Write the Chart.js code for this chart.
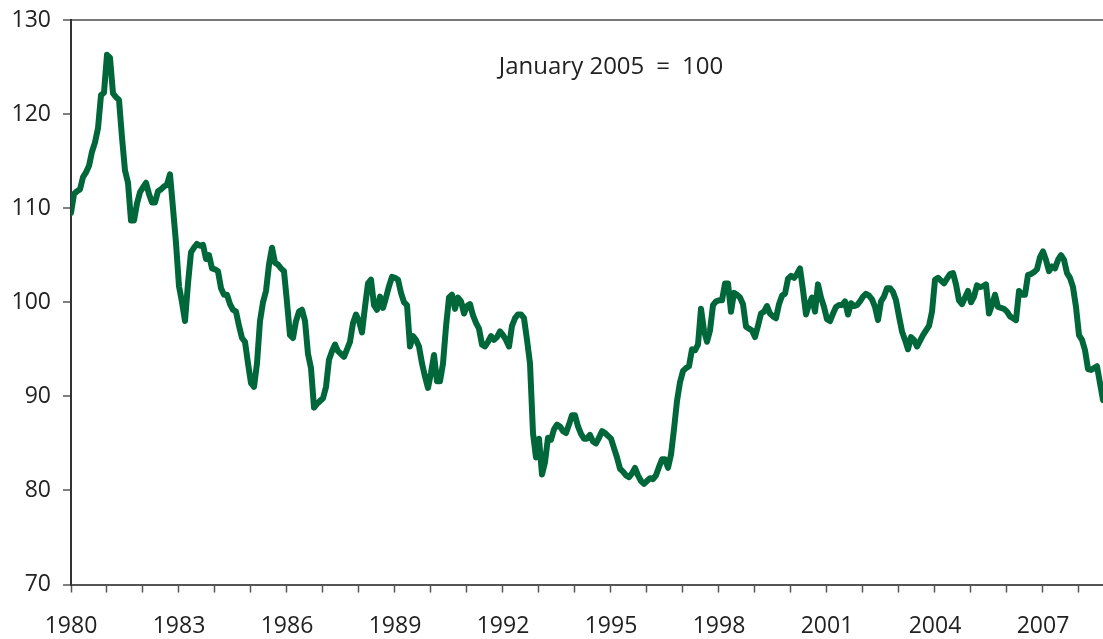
<!DOCTYPE html>
<html><head><meta charset="utf-8">
<script src="https://cdn.jsdelivr.net/npm/chart.js@4.4.1/dist/chart.umd.min.js"></script>
<style>html,body{margin:0;padding:0;background:#fff;overflow:hidden}</style>
</head><body>
<canvas id="c" width="1103" height="639"></canvas>
<script>
// ---- data (monthly index, January 2005 = 100) ----
const seriesLabel = 'Effective exchange rate index';
const noteText = 'January 2005 = 100';
const startYear = 1980;
const yMin = 70, yMax = 130, yStep = 10;
const labelEveryYears = 3;

const values1980s = [
  109.5,111.5,111.8,112,113.3,113.8,114.5,116,117,118.5,122,122.3,
  126.3,126,122.2,121.8,121.5,117.5,114,112.7,108.7,108.7,110.5,111.7,
  112.2,112.7,111.5,110.6,110.6,111.8,112,112.3,112.5,113.6,110,106.3,
  101.7,100,98,102,105.3,105.8,106.2,106,106.1,104.6,105,103.6,
  103.5,103.3,101.5,100.8,100.8,99.8,99.2,99,97.5,96.2,95.8,93.5,
  91.4,91,93.5,98,100,101.2,104,105.8,104.2,104,103.6,103.3,
  100,96.5,96.2,98,99,99.2,98,94.5,93,88.8,89.2,89.5,
  89.8,91,93.9,94.8,95.5,94.8,94.5,94.2,95,95.8,97.8,98.7,
  98,96.8,99.5,102,102.4,99.7,99.2,100.6,99.4,100.5,101.7,102.7,
  102.6,102.4,101,100,99.7,95.3,96.4,96,95.3,93.5,92.1,90.9
];
const values1990s = [
  92.5,94.4,91.6,91.6,93.5,97.4,100.5,100.8,99.3,100.5,100.1,98.8,
  99.6,99.8,98.6,97.8,97.2,95.5,95.3,95.8,96.4,96,96.3,96.9,
  96.5,96,95.3,97.5,98.3,98.7,98.7,98.3,96,93.5,86.1,83.5,
  85.5,81.7,83,85.6,85.4,86.5,87,86.8,86.3,86.1,87,88,
  88,86.8,86,85.5,85.5,85.9,85.2,85,85.6,86.3,86.1,85.8,
  85.5,84.5,83.5,82.3,82,81.6,81.4,81.8,82.4,81.6,81,80.7,
  81,81.3,81.2,81.6,82.5,83.3,83.3,82.4,83.8,86.5,89.5,91.5,
  92.7,93,93.2,95,94.9,95.5,99.3,97,95.8,97,99.7,100.1,
  100.2,100.2,102,102,99,101,100.8,100.5,99.8,97.4,97.2,97,
  96.3,97.5,98.8,99,99.6,98.8,98.5,98.3,99.8,100.7,100.9,102.5
];
const values2000s = [
  102.8,102.6,103,103.6,101.3,98.7,99.8,100.5,99,101.9,100.5,99.5,
  98.2,98,98.8,99.5,99.7,99.7,100.1,98.7,99.9,99.6,99.7,100.1,
  100.6,100.9,100.7,100.3,99.5,98.1,100.1,100.6,101.5,101.5,101.1,100.2,
  98.5,96.9,96,95,96.3,96,95.3,95.9,96.5,97,97.5,99,
  102.4,102.6,102.3,102,102.5,103,103.1,101.9,100.2,99.8,100.5,101.2,
  100,100.6,101.8,101.6,101.7,101.9,98.8,99.7,100.8,99.5,99.4,99.3,
  99,98.5,98.3,98.1,101.2,100.8,100.8,102.9,103,103.2,103.5,104.8,
  105.4,104.5,103.3,103.8,103.6,104.5,105,104.5,103.1,102.6,101.6,99.5,
  96.5,96,94.9,92.9,92.8,93,93.2,91.4,89.6
];

// ---- build ----
const allValues = values1980s.concat(values1990s, values2000s);
const points = allValues.map((v, i) => ({ x: startYear + i / 12, y: v }));
const xMax = startYear + (allValues.length - 1) / 12;

const FONT = "'Open Sans', 'Noto Sans', sans-serif";
const TEXT = '#222222';

const notePlugin = {
  id: 'note',
  afterDraw(chart) {
    const { ctx, scales } = chart;
    ctx.save();
    ctx.font = `24px ${FONT}`;
    ctx.fillStyle = TEXT;
    ctx.textAlign = 'center';
    ctx.textBaseline = 'middle';
    const txt = noteText.replace(' = ', '\u2002=\u2002');
    ctx.fillText(txt, scales.x.getPixelForValue(1995), scales.y.getPixelForValue(125));
    ctx.restore();
  }
};

new Chart(document.getElementById('c'), {
  type: 'line',
  data: {
    datasets: [{
      label: seriesLabel,
      data: points,
      borderColor: '#00673A',
      borderWidth: 6,
      pointRadius: 0,
      tension: 0,
      borderJoinStyle: 'round',
      borderCapStyle: 'round',
      fill: false
    }]
  },
  options: {
    responsive: false,
    animation: false,
    layout: { padding: { top: 20, right: 0, bottom: 0, left: 0 } },
    plugins: { legend: { display: false }, tooltip: { enabled: false } },
    scales: {
      x: {
        type: 'linear',
        min: startYear,
        max: xMax,
        afterFit(s) { s.height = 54.5; s.paddingLeft = 0; s.paddingRight = 0; },
        border: { display: true, color: '#555', width: 2 },
        grid: { drawOnChartArea: false, drawTicks: true, tickLength: 8, tickColor: '#555', tickWidth: 1.5 },
        ticks: {
          stepSize: 1,
          includeBounds: false,
          autoSkip: false,
          maxRotation: 0,
          padding: 20,
          color: TEXT,
          font: { family: FONT, size: 23 },
          callback: (v) => ((v - startYear) % labelEveryYears === 0 ? String(v) : '')
        }
      },
      y: {
        min: yMin,
        max: yMax,
        afterFit(s) { s.width = 71; s.paddingTop = 0; s.paddingBottom = 0; },
        border: { display: true, color: '#333', width: 2 },
        grid: {
          drawOnChartArea: true,
          drawTicks: true,
          tickLength: 8,
          tickColor: '#555',
          tickWidth: 1.5,
          lineWidth: 2,
          color: (c) => (c.tick && c.tick.value === yMax ? '#777' : 'rgba(0,0,0,0)')
        },
        ticks: {
          stepSize: yStep,
          padding: 12,
          color: TEXT,
          font: { family: FONT, size: 23 }
        }
      }
    }
  },
  plugins: [notePlugin]
});
</script>
</body></html>
